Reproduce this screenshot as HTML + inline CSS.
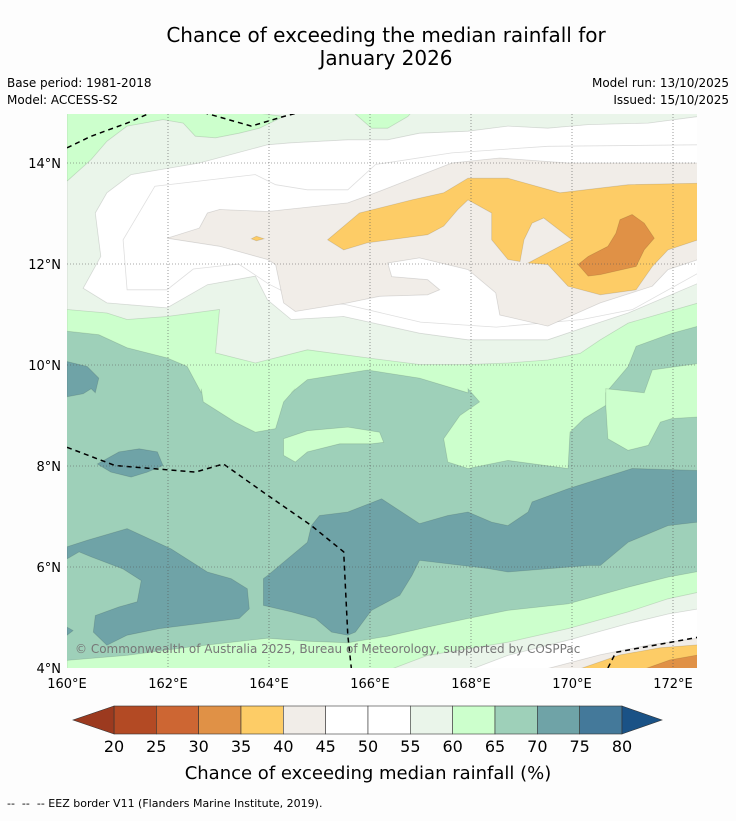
<!DOCTYPE html>
<html><head><meta charset="utf-8"><style>
html,body{margin:0;padding:0;background:#fdfdfd;}
body{width:736px;height:816px;overflow:hidden;font-family:"Liberation Sans","DejaVu Sans",sans-serif;}
text{font-family:"DejaVu Sans","Liberation Sans",sans-serif;}
</style></head><body>
<svg id="chart" width="736" height="816" viewBox="0 0 736 816" xmlns="http://www.w3.org/2000/svg">
<text x="386" y="42" text-anchor="middle" font-size="20" fill="#000">Chance of exceeding the median rainfall for</text>
<text x="386" y="65" text-anchor="middle" font-size="20" fill="#000">January 2026</text>
<text x="7" y="87" font-size="12">Base period: 1981-2018</text>
<text x="7" y="104" font-size="12">Model: ACCESS-S2</text>
<text x="729" y="87" font-size="12" text-anchor="end">Model run: 13/10/2025</text>
<text x="729" y="104" font-size="12" text-anchor="end">Issued: 15/10/2025</text>
<defs><clipPath id="mapclip"><rect x="67" y="114" width="630" height="554"/></clipPath></defs>
<g id="map" clip-path="url(#mapclip)"></g>
<text x="75" y="653" font-size="12" fill="#777">© Commonwealth of Australia 2025, Bureau of Meteorology, supported by COSPPac</text>
<g id="axes"></g>
<g id="cbar"></g>
<text x="368" y="779" text-anchor="middle" font-size="18">Chance of exceeding median rainfall (%)</text>
<text x="7" y="807" font-size="11" xml:space="preserve" style="white-space:pre">--  --  -- EEZ border V11 (Flanders Marine Institute, 2019).</text>
</svg>
<script>
const levels=[20,25,30,35,40,45,50,55,60,65,70,75,80];
const levelColors=["#b34a24","#cd6633","#e09146","#fdcc66","#f1ede8","#ffffff","#ffffff","#eaf5ea","#ccffcc","#9ed0b9","#6fa3a7","#44799a"];
const lonTicks=[160,162,164,166,168,170,172];
const latTicks=[4,6,8,10,12,14];
const regGreenTop=[[160,15],[172.5,15],[172.5,10.77],[171.98,10.63],[171.27,10.37],[171.11,9.97],[170.67,9.45],[170.67,9.2],[170.24,8.94],[169.96,8.67],[169.92,7.95],[168.73,8.11],[167.94,7.95],[167.54,8.08],[167.46,8.54],[167.78,9.0],[168.17,9.27],[167.94,9.53],[167.94,9.45],[166.98,9.74],[165.95,9.9],[164.76,9.71],[164.44,9.45],[164.52,9.53],[164.29,9.27],[164.13,8.74],[163.73,8.67],[163.33,8.87],[162.7,9.27],[162.66,9.53],[162.66,9.45],[162.38,9.97],[161.98,10.14],[161.19,10.34],[160.63,10.6],[160,10.67]];
const regGreenRight=[[171.59,9.9],[172.5,10.03],[172.5,8.97],[171.98,8.94],[171.75,8.87],[171.51,8.41],[171.11,8.31],[170.71,8.54],[170.67,9.2],[170.67,9.53],[171.43,9.45]];
const regGreenIsland=[[164.29,8.54],[164.76,8.7],[165.56,8.77],[166.19,8.67],[166.27,8.47],[166.03,8.44],[165.4,8.44],[164.76,8.28],[164.52,8.08],[164.29,8.21]];
const regPale=[[163.7,15],[172.5,15],[172.5,11.23],[171.11,10.83],[170.56,10.5],[170.16,10.23],[169.52,10.1],[168.73,10.04],[167.94,10.01],[166.98,10.01],[165.95,10.14],[164.76,10.3],[163.73,10.04],[162.94,10.24],[163.02,11.1],[161.98,10.96],[161.19,10.9],[160.79,11.03],[160,11.1],[160,13.64],[160.48,14.07],[160.79,14.43],[161.19,14.73],[161.9,14.86],[162.3,14.79],[162.54,14.53],[162.94,14.5],[163.41,14.59],[163.81,14.69],[164.29,14.92]];
const regGreenTopBlob=[[165.56,15.1],[166.03,14.69],[166.35,14.69],[166.75,14.92],[166.9,15.1]];
const regWhite=[[172.5,14.92],[171.51,14.79],[170.32,14.76],[169.52,14.69],[168.73,14.73],[167.94,14.63],[166.98,14.59],[166.35,14.46],[165.56,14.46],[164.44,14.4],[163.97,14.36],[162.62,14.0],[161.27,13.77],[160.79,13.41],[160.56,13.01],[160.67,12.15],[160.32,11.52],[160.79,11.23],[161.98,11.13],[162.78,11.59],[163.73,11.76],[163.97,11.29],[164.44,10.9],[165.48,10.96],[166.98,10.63],[167.94,10.5],[169.52,10.5],[170.32,10.77],[171.11,11.03],[172.5,11.62]];
const regWhiteInner=[[161.19,11.49],[161.11,12.48],[161.74,13.54],[163.73,13.77],[164.13,13.57],[164.76,13.47],[165.56,13.47],[166.11,13.97],[167.62,14.2],[169.52,14.33],[172.5,14.36],[172.5,11.82],[171.2,11.1],[170.2,10.9],[168.5,10.75],[167.0,10.85],[165.5,11.2],[164.6,11.3],[164.0,11.6],[163.4,12.0],[162.5,11.9],[161.98,11.49]];
const regBeige=[[161.98,12.51],[162.62,12.71],[162.78,13.01],[163.02,13.08],[163.97,13.04],[165.56,13.21],[166.11,13.41],[167.62,14.0],[168.57,14.1],[169.92,14.0],[172.5,14.0],[172.5,12.09],[171.9,11.89],[171.59,11.56],[170.56,11.23],[169.52,10.77],[168.57,10.99],[168.49,11.43],[167.94,11.89],[166.98,12.12],[166.35,12.02],[166.43,11.75],[167.14,11.69],[167.38,11.49],[167.14,11.39],[166.19,11.36],[165.56,11.23],[164.52,11.06],[164.29,11.23],[164.13,11.99],[163.97,12.09],[163.02,12.35]];
const regOrange=[[165.16,12.48],[165.79,13.01],[166.83,13.27],[167.46,13.41],[167.94,13.7],[168.73,13.7],[169.76,13.41],[171.11,13.57],[172.5,13.6],[172.5,12.48],[171.9,12.28],[171.59,11.95],[171.27,11.49],[170.56,11.39],[169.92,11.56],[169.52,11.99],[169.13,12.02],[170.0,12.48],[169.44,12.91],[169.21,12.81],[169.05,12.48],[168.97,12.05],[168.73,12.09],[168.41,12.48],[168.41,13.01],[167.94,13.27],[167.74,13.08],[167.46,12.75],[167.14,12.58],[165.95,12.42],[165.48,12.28]];
const regOrangeDot=[[163.65,12.5],[163.75,12.55],[163.9,12.5],[163.75,12.46]];
const regDarkOrange=[[170.95,12.88],[171.19,12.98],[171.43,12.81],[171.63,12.51],[171.43,12.28],[171.27,11.95],[170.56,11.79],[170.32,11.76],[170.12,11.99],[170.32,12.15],[170.71,12.35],[170.87,12.61]];
const regTealA=[[160,10.07],[160.4,9.97],[160.63,9.74],[160.56,9.45],[160.48,9.53],[160.32,9.43],[160,9.37]];
const regTealB=[[160.6,8.04],[161.03,8.28],[161.43,8.34],[161.79,8.28],[161.9,8.01],[161.59,7.88],[161.27,7.78],[160.87,7.88]];
const regTealC=[[160,6.4],[160.4,6.53],[161.19,6.76],[162.06,6.36],[162.78,5.9],[163.25,5.77],[163.57,5.57],[163.61,5.17],[163.41,4.98],[162.62,4.88],[161.83,4.78],[161.19,4.65],[160.79,4.45],[160.52,4.71],[160.56,5.04],[161.03,5.21],[161.39,5.31],[161.47,5.73],[161.11,5.96],[160.48,6.2],[160.24,6.3],[160,6.16]];
const regTealD=[[160,4.81],[160.12,4.74],[160,4.65]];
const regTealE=[[163.89,5.77],[163.97,5.83],[164.76,6.49],[164.84,6.82],[165.0,7.02],[165.56,7.09],[166.23,7.35],[166.98,6.86],[167.54,7.02],[167.94,7.09],[168.41,6.89],[168.73,6.82],[169.13,7.09],[169.21,7.29],[169.92,7.55],[171.19,7.95],[172.5,7.91],[172.5,6.89],[171.9,6.82],[171.11,6.49],[170.56,6.03],[170.32,6.03],[168.73,5.9],[168.33,5.97],[166.98,6.13],[166.83,5.83],[166.59,5.44],[166.03,5.14],[165.71,4.71],[165.56,4.65],[165.24,4.71],[164.92,4.98],[164.44,5.11],[163.89,5.24]];
const regGreenBottom=[[160,4.15],[161.19,4.25],[162.38,4.41],[163.97,4.59],[164.76,4.53],[165.56,4.5],[166.35,4.63],[167.14,4.81],[167.94,4.98],[168.73,5.14],[169.92,5.27],[171.11,5.6],[171.9,5.8],[172.5,5.91],[172.5,3.9],[160,3.9]];
const regPaleBottom=[[166.35,3.95],[167.14,4.25],[167.94,4.38],[168.73,4.51],[169.92,4.78],[171.11,5.11],[171.9,5.37],[172.5,5.5],[172.5,3.9]];
const regWhiteBottom=[[167.94,3.95],[168.73,4.25],[169.92,4.55],[171.11,4.88],[171.9,5.07],[172.5,5.17],[172.5,3.9]];
const regBeigeBottom=[[169.37,3.95],[170.55,4.26],[171.54,4.46],[172.5,4.59],[172.5,3.9]];
const regOrangeBottom=[[170.06,3.95],[170.95,4.26],[171.74,4.4],[172.5,4.46],[172.5,3.9]];
const regDarkBottom=[[171.35,3.95],[171.94,4.16],[172.5,4.26],[172.5,3.9]];
const regions=[[60,regGreenTop],[60,regGreenRight],[60,regGreenIsland],[55,regPale],[60,regGreenTopBlob],[45,regWhite],[50,regWhiteInner],[40,regBeige],[35,regOrange],[35,regOrangeDot],[30,regDarkOrange],[70,regTealA],[70,regTealB],[70,regTealC],[70,regTealD],[70,regTealE],[60,regGreenBottom],[55,regPaleBottom],[45,regWhiteBottom],[40,regBeigeBottom],[35,regOrangeBottom],[30,regDarkBottom]];
const eezLines=[[[160,14.3],[160.48,14.53],[161.19,14.79],[161.67,15.0]],[[162.7,15.0],[163.65,14.73],[164.29,14.92],[164.6,15.0]],[[160,8.37],[160.95,8.01],[162.54,7.88],[163.1,8.04],[163.89,7.48],[164.84,6.82],[165.48,6.3],[165.56,4.65],[165.63,4.0]],[[170.71,4.0],[170.87,4.31],[172.5,4.61]]];

const NS='http://www.w3.org/2000/svg';
const X0=67,Y0=668,S=50.5;
function xs(lon){return X0+(lon-160)*S;}
function ys(lat){return Y0-(lat-4)*S;}
function colorFor(v){const i=levels.findIndex(l=>l===v);return levelColors[Math.max(0,i)];}
function pts(a){return a.map(p=>xs(p[0]).toFixed(1)+','+ys(p[1]).toFixed(1)).join(' ');}
const map=document.getElementById('map');
const bg=document.createElementNS(NS,'rect');


bg.setAttribute('x',67);bg.setAttribute('y',114);bg.setAttribute('width',630);bg.setAttribute('height',554);bg.setAttribute('fill',colorFor(65));
map.appendChild(bg);
regions.forEach((r,i)=>{
  const p=document.createElementNS(NS,'polygon');
  
  
  p.setAttribute('points',pts(r[1]));
  p.setAttribute('fill',colorFor(r[0]));
  p.setAttribute('stroke','rgba(0,0,0,0.13)');p.setAttribute('stroke-width','0.8');
  map.appendChild(p);
});
eezLines.forEach(l=>{
  const p=document.createElementNS(NS,'polyline');
  
  
  p.setAttribute('points',pts(l));p.setAttribute('fill','none');p.setAttribute('stroke','#000');p.setAttribute('stroke-width','1.5');p.setAttribute('stroke-dasharray','5,4');
  map.appendChild(p);
});
const axes=document.getElementById('axes');
lonTicks.forEach(t=>{
  if(t>160){const g=document.createElementNS(NS,'line');
  
  
  g.setAttribute('x1',xs(t));g.setAttribute('x2',xs(t));g.setAttribute('y1',114);g.setAttribute('y2',668);g.setAttribute('stroke','#555');g.setAttribute('stroke-width','0.6');g.setAttribute('stroke-dasharray','1,2');axes.appendChild(g);}
  const tx=document.createElementNS(NS,'text');
  
  
  tx.setAttribute('x',xs(t));tx.setAttribute('y',688);tx.setAttribute('text-anchor','middle');tx.setAttribute('font-size','13');tx.textContent=t+'°E';axes.appendChild(tx);
});
latTicks.forEach(t=>{
  if(t>4){const g=document.createElementNS(NS,'line');
  
  
  g.setAttribute('x1',67);g.setAttribute('x2',697);g.setAttribute('y1',ys(t));g.setAttribute('y2',ys(t));g.setAttribute('stroke','#555');g.setAttribute('stroke-width','0.6');g.setAttribute('stroke-dasharray','1,2');axes.appendChild(g);}
  const tx=document.createElementNS(NS,'text');
  
  
  tx.setAttribute('x',61);tx.setAttribute('y',ys(t)+5);tx.setAttribute('text-anchor','end');tx.setAttribute('font-size','13');tx.textContent=t+'°N';axes.appendChild(tx);
});
const cb=document.getElementById('cbar');
const CB0=114,CB1=622,CBY=706,CBH=28,segW=(CB1-CB0)/levelColors.length;
levelColors.forEach((c,i)=>{
  const r=document.createElementNS(NS,'rect');
  
  
  r.setAttribute('x',CB0+i*segW);r.setAttribute('y',CBY);r.setAttribute('width',segW);r.setAttribute('height',CBH);r.setAttribute('fill',c);r.setAttribute('stroke','#333');r.setAttribute('stroke-width','0.6');cb.appendChild(r);
});
const lt=document.createElementNS(NS,'polygon');


lt.setAttribute('points',`${CB0},${CBY} 73,${CBY+CBH/2} ${CB0},${CBY+CBH}`);lt.setAttribute('fill','#9c3a1f');lt.setAttribute('stroke','#333');lt.setAttribute('stroke-width','0.6');cb.appendChild(lt);
const rt=document.createElementNS(NS,'polygon');


rt.setAttribute('points',`${CB1},${CBY} 662,${CBY+CBH/2} ${CB1},${CBY+CBH}`);rt.setAttribute('fill','#1a5286');rt.setAttribute('stroke','#333');rt.setAttribute('stroke-width','0.6');cb.appendChild(rt);
levels.forEach((l,i)=>{
  const tx=document.createElementNS(NS,'text');
  
  
  tx.setAttribute('x',CB0+i*segW);tx.setAttribute('y',752);tx.setAttribute('text-anchor','middle');tx.setAttribute('font-size','16');tx.textContent=l;cb.appendChild(tx);
});
</script>
</body></html>
